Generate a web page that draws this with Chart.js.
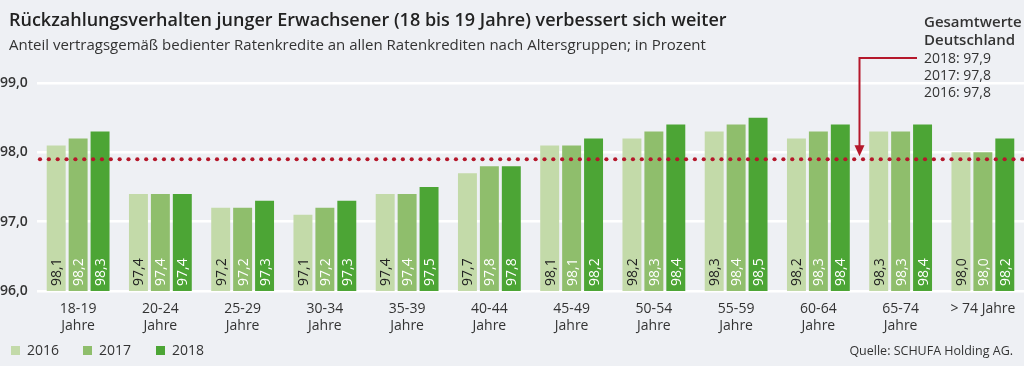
<!DOCTYPE html>
<html>
<head>
<meta charset="utf-8">
<script src="https://cdn.jsdelivr.net/npm/chart.js@4/dist/chart.umd.min.js"></script>
<style>
  html, body { margin: 0; padding: 0; background: #eef0f4; }
  #wrap { width: 1024px; height: 366px; position: relative; }
</style>
</head>
<body>
<div id="wrap"><canvas id="c" width="1024" height="366"></canvas></div>
<script>
const categories = [["18-19","Jahre"],["20-24","Jahre"],["25-29","Jahre"],["30-34","Jahre"],["35-39","Jahre"],["40-44","Jahre"],["45-49","Jahre"],["50-54","Jahre"],["55-59","Jahre"],["60-64","Jahre"],["65-74","Jahre"],"> 74 Jahre"];
const years = ["2016", "2017", "2018"];
const v2016 = [98.1, 97.4, 97.2, 97.1, 97.4, 97.7, 98.1, 98.2, 98.3, 98.2, 98.3, 98.0];
const v2017 = [98.2, 97.4, 97.2, 97.2, 97.4, 97.8, 98.1, 98.3, 98.4, 98.3, 98.3, 98.0];
const v2018 = [98.3, 97.4, 97.3, 97.3, 97.5, 97.8, 98.2, 98.4, 98.5, 98.4, 98.4, 98.2];
const yTicks = [96, 97, 98, 99];
const totalLabels = ["2018: 97,9", "2017: 97,8", "2016: 97,8"];
const total2018 = 97.9;

const title = "Rückzahlungsverhalten junger Erwachsener (18 bis 19 Jahre) verbessert sich weiter";
const subtitle = "Anteil vertragsgemäß bedienter Ratenkredite an allen Ratenkrediten nach Altersgruppen; in Prozent";
const source = "Quelle: SCHUFA Holding AG.";

const colors = ["#c3daa9", "#8fbe6c", "#4ca535"];
const labelColors = ["#222222", "#ffffff", "#ffffff"];
const FONT = "'Open Sans', 'Noto Sans', sans-serif";
const RED = "#b5182b";
const fmt = v => v.toFixed(1).replace(".", ",");

const extras = {
  id: "extras",
  afterDatasetsDraw(chart) {
    const ctx = chart.ctx;
    const x = chart.scales.x, y = chart.scales.y;
    const area = chart.chartArea;
    ctx.save();
    // value labels inside bars
    chart.data.datasets.forEach((ds, di) => {
      const meta = chart.getDatasetMeta(di);
      meta.data.forEach((bar, i) => {
        ctx.save();
        ctx.translate(bar.x, area.bottom - 5);
        ctx.rotate(-Math.PI / 2);
        ctx.font = "14px " + FONT;
        ctx.fillStyle = labelColors[di];
        ctx.textAlign = "left";
        ctx.textBaseline = "middle";
        ctx.fillText(fmt(ds.data[i]), 0, 1);
        ctx.restore();
      });
    });
    // red dotted line
    const yy = y.getPixelForValue(total2018);
    ctx.fillStyle = RED;
    for (let px = area.left + 3; px < area.right; px += 8.85) {
      ctx.beginPath();
      ctx.arc(px, yy, 2.1, 0, Math.PI * 2);
      ctx.fill();
    }
    // arrow
    const ax = (x.getPixelForValue(9) + x.getPixelForValue(10)) / 2;
    const topY = 58;
    ctx.strokeStyle = RED;
    ctx.lineWidth = 2;
    ctx.beginPath();
    ctx.moveTo(917, topY);
    ctx.lineTo(ax, topY);
    ctx.lineTo(ax, yy - 12);
    ctx.stroke();
    ctx.beginPath();
    ctx.moveTo(ax - 5, yy - 14);
    ctx.lineTo(ax + 5, yy - 14);
    ctx.lineTo(ax, yy - 3);
    ctx.closePath();
    ctx.fill();
    // titles
    ctx.textAlign = "left";
    ctx.textBaseline = "middle";
    ctx.fillStyle = "#222222";
    ctx.font = "600 18px " + FONT;
    ctx.fillText(title, 9, 21);
    ctx.fillStyle = "#333333";
    ctx.font = "15px " + FONT;
    ctx.fillText(subtitle, 9, 46);
    // annotation
    ctx.font = "600 15px " + FONT;
    ctx.fillStyle = "#333333";
    ctx.fillText("Gesamtwerte", 924, 23);
    ctx.fillText("Deutschland", 924, 41);
    ctx.font = "14px " + FONT;
    totalLabels.forEach((t, i) => ctx.fillText(t, 924, 59 + i * 17));
    // legend
    const lx = [11, 83, 156];
    ctx.font = "14px " + FONT;
    years.forEach((yr, i) => {
      ctx.fillStyle = colors[i];
      ctx.fillRect(lx[i], 346, 9, 9);
      ctx.fillStyle = "#333333";
      ctx.fillText(yr, lx[i] + 16, 351);
    });
    // source
    ctx.textAlign = "right";
    ctx.font = "12.5px " + FONT;
    ctx.fillText(source, 1013, 351);
    ctx.restore();
  }
};

new Chart(document.getElementById("c"), {
  type: "bar",
  data: {
    labels: categories,
    datasets: [
      { label: years[0], data: v2016, backgroundColor: colors[0] },
      { label: years[1], data: v2017, backgroundColor: colors[1] },
      { label: years[2], data: v2018, backgroundColor: colors[2] }
    ]
  },
  options: {
    responsive: false,
    animation: false,
    devicePixelRatio: 1,
    layout: { padding: { top: 83, right: 0, left: 0, bottom: 0 } },
    datasets: { bar: { categoryPercentage: 0.80, barPercentage: 0.864 } },
    plugins: { legend: { display: false }, tooltip: { enabled: false }, title: { display: false } },
    scales: {
      x: {
        grid: { display: false },
        border: { display: false },
        ticks: { color: "#333333", font: { family: FONT, size: 14, lineHeight: 1.2 }, padding: 2, maxRotation: 0, autoSkip: false },
        afterFit(s) { s.height = 75; }
      },
      y: {
        min: 96, max: 99,
        afterBuildTicks(s) { s.ticks = yTicks.map(v => ({ value: v })); },
        grid: { color: "#ffffff", lineWidth: 2.5, drawTicks: false },
        border: { display: false },
        ticks: {
          color: "#333333",
          font: { family: FONT, size: 14, weight: "600" },
          padding: 4,
          crossAlign: "far",
          callback: v => fmt(v)
        },
        afterFit(s) { s.width = 37; }
      }
    }
  },
  plugins: [extras]
});
</script>
</body>
</html>
